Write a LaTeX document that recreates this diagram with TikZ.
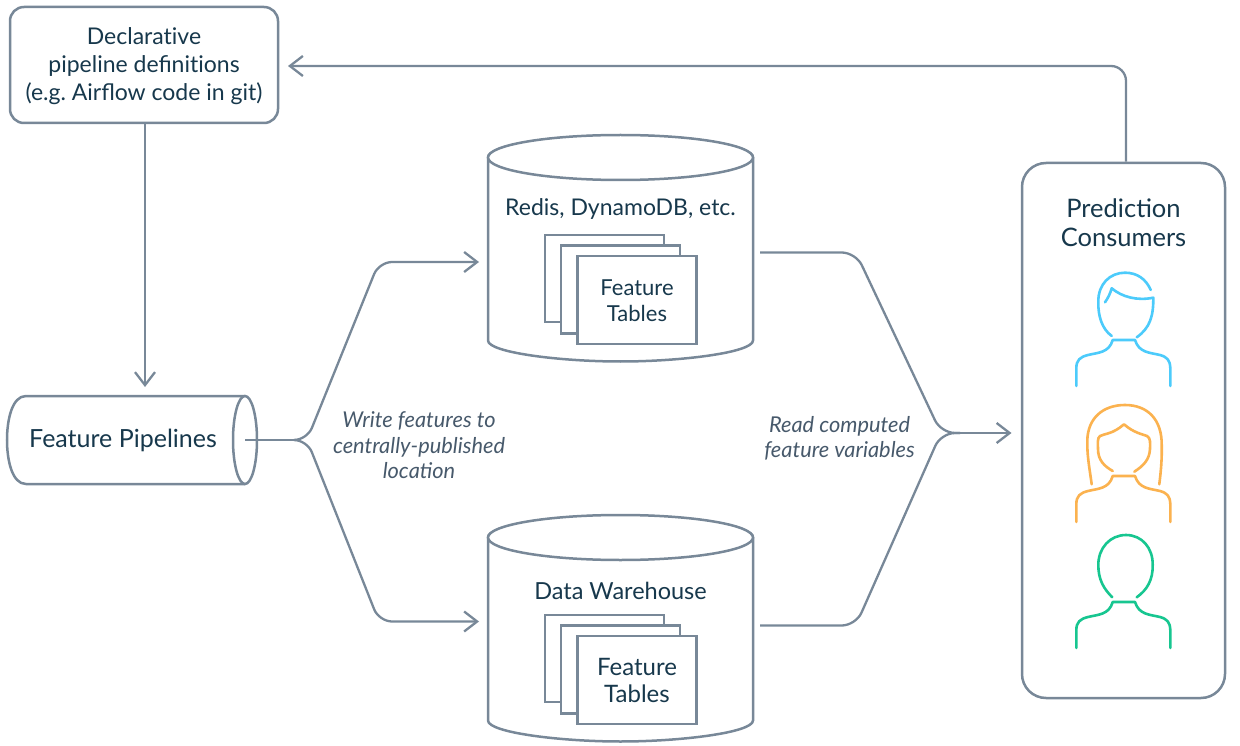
\documentclass[tikz,border=0pt]{standalone}
\usepackage{fontspec}
\setmainfont{Lato}
\frenchspacing
\usetikzlibrary{arrows.meta}
\definecolor{ln}{HTML}{788898}
\definecolor{tx}{HTML}{17384C}
\definecolor{lb}{HTML}{47596B}
\definecolor{pblue}{HTML}{4CCBFB}
\definecolor{porange}{HTML}{FBB24F}
\definecolor{pgreen}{HTML}{17C690}
\tikzset{
  x=1pt,y=-1pt,
  shp/.style={draw=ln,line width=2.5pt,fill=white},
  conn/.style={draw=ln,line width=2.3pt},
  tip/.style={-{Straight Barb[length=13pt,width=20pt,line width=2.3pt]}},
  txt/.style={text=tx,align=center,inner sep=0pt,font=\fontsize{23}{30}\selectfont},
  small/.style={text=tx,align=center,inner sep=0pt,font=\fontsize{22}{26}\selectfont},
  note/.style={text=lb,align=center,inner sep=0pt,font=\fontsize{21.8}{25.5}\selectfont\itshape},
  person/.style={line width=2.6pt,line cap=round,line join=round},
}
\newcommand{\dbcyl}[2]{% y offset, name
  \draw[shp] (488,#1+22) -- (488,#1+205) .. controls (488,#1+217) and (560,#1+226) .. (620.5,#1+226) .. controls (681,#1+226) and (753,#1+217) .. (753,#1+205) -- (753,#1+22)
    .. controls (753,#1+10) and (690,#1+0) .. (620.5,#1+0) .. controls (551,#1+0) and (488,#1+10) .. (488,#1+22) -- cycle;
  \draw[shp] (620.5,#1+22) ellipse [x radius=132.5pt,y radius=22.5pt];
  \node[shp,minimum width=119pt,minimum height=87pt,inner sep=0pt] (#2a) at (604.5,#1+143) {};
  \node[shp,minimum width=119pt,minimum height=88pt,inner sep=0pt] (#2b) at (620.7,#1+154) {};
  \node[shp,minimum width=119pt,minimum height=88pt,inner sep=0pt] (#2c) at (637,#1+164.5) {};
}
\newcommand{\body}[1]{% y offset
  (1076.3,#1+386) -- (1076.3,#1+368) .. controls (1076.5,#1+360) and (1080,#1+357) .. (1088,#1+355) .. controls (1098,#1+352.5) and (1109,#1+353) .. (1112.7,#1+340) -- (1135,#1+340) .. controls (1139,#1+353) and (1150,#1+352.5) .. (1160,#1+355) .. controls (1167,#1+357) and (1170,#1+360) .. (1170.3,#1+368) -- (1170.3,#1+386)
}
\begin{document}
\begin{tikzpicture}
\useasboundingbox (0,0) rectangle (1240,746);
% pipeline definitions
\node[shp,rounded corners=14pt,minimum width=268pt,minimum height=116pt,inner sep=0pt] (defs) at (144,65) {};
\node[txt,font=\fontsize{23}{28}\selectfont] (defstext) at (144,66) {Declarat\kern0pt ive\\pipeline definit\kern0pt ions\\(e.g. Airflow code in git)};
% feature pipelines cylinder
\coordinate (fpn) at (145,396);
\draw[shp] (245,396) -- (26,396) .. controls (12,396) and (7,420) .. (7,440) .. controls (7,460) and (12,484) .. (26,484) -- (245,484);
\draw[shp] (245,440) ellipse [x radius=12pt,y radius=44pt];
\node[txt,font=\fontsize{25}{30}\selectfont] (fptext) at (123,440.5) {Feature Pipelines};
\coordinate (fpout) at (245,440);
% stores
\dbcyl{135.5}{r}
\dbcyl{515.5}{w}
\node[txt] (redis) at (620.5,209) {Redis, DynamoDB, etc.};
\node[small] (ft1) at (637,300.5) {Feature\\Tables};
\node[txt,font=\fontsize{23.5}{30}\selectfont] (dw) at (620.5,590.5) {Data Warehouse};
\node[txt,font=\fontsize{24}{27}\selectfont] (ft2) at (637,680.5) {Feature\\Tables};
% consumers
\node[shp,rounded corners=24pt,minimum width=203pt,minimum height=535pt,inner sep=0pt] (cons) at (1123.5,430.5) {};
\node[txt,font=\fontsize{25.5}{29.5}\selectfont] (constext) at (1123.5,222.5) {Prediction\\Consumers};
% connector ends
\coordinate (rin) at (479,262);
\coordinate (win) at (479,621.5);
\coordinate (rout) at (760,252.5);
\coordinate (wout) at (760,625.5);
\coordinate (consin) at (1011.5,433);
\coordinate (join) at (948,433);
\coordinate (split) at (307,440);
\coordinate (fback) at (288,66);
% connectors
\draw[conn,tip] (defs.south -| fpn) -- (145,387);
\draw[conn,tip,rounded corners=15pt] (cons.north -| 1126,0) -- (1126,66) -- (fback);
\draw[conn] (fpout) -- (300,440);
\draw[conn,tip,rounded corners=13pt] (295,440) -- (split) -- (379,262) -- (rin);
\draw[conn,tip,rounded corners=13pt] (295,440) -- (split) -- (379,621.5) -- (win);
\draw[conn,rounded corners=14pt] (rout) -- (855.8,252.5) -- (941,433) -- (960,433);
\draw[conn,rounded corners=14pt] (wout) -- (855.8,625.5) -- (941,433) -- (960,433);
\draw[conn,tip] (join) -- (consin);
% labels
\node[note] (wlabel) at (419,445.5) {Write features to\\centrally-published\\location};
\node[note] (rlabel) at (839.5,438.5) {Read computed\\feature variables};
% people
\draw[person,pblue] \body{0};
\draw[person,pblue] (1111.7,336) .. controls (1102,329) and (1098,316) .. (1098.3,302) .. controls (1098,284) and (1110,272.7) .. (1125,272.7) .. controls (1137,272.7) and (1146,279) .. (1150.7,290);
\draw[person,pblue] (1105,302.3) .. controls (1108,298) and (1110,294) .. (1111.7,288.3) .. controls (1122,297) and (1137,301) .. (1153.3,297.7) .. controls (1153.5,316) and (1150,328) .. (1136.7,337.3);
\draw[person,porange] \body{136};
\draw[person,porange] (1091.7,484.3) .. controls (1089,465) and (1087,455) .. (1087.3,440) .. controls (1088,418) and (1103,405) .. (1125,405) .. controls (1148,405) and (1162,420) .. (1161.7,445) .. controls (1162,460) and (1161,470) .. (1159.3,484.3);
\draw[person,porange] (1112.7,471) .. controls (1104,466) and (1098,460) .. (1098,449) .. controls (1098,444) and (1097,438) .. (1100,436) .. controls (1105,433.5) and (1113,434) .. (1124,424.3) .. controls (1134,433) and (1142,434) .. (1147,436) .. controls (1151,438) and (1150,444) .. (1150,449) .. controls (1149.5,460) and (1143,466) .. (1134.3,471.7);
\draw[person,pgreen] \body{262};
\draw[person,pgreen] (1112.3,597.3) .. controls (1104,589) and (1098.3,580) .. (1098.3,565) .. controls (1098.3,548) and (1110,535) .. (1126,535) .. controls (1142,535) and (1153,548) .. (1152.7,565) .. controls (1153,580) and (1147,590) .. (1136.7,597.3);
\end{tikzpicture}
\end{document}
